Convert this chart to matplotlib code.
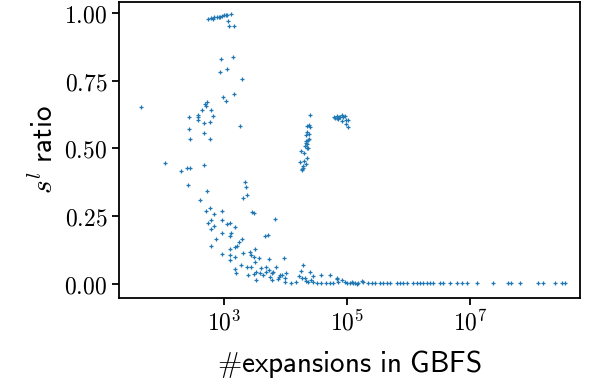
import numpy as np
import matplotlib
matplotlib.use('Agg')
import matplotlib.pyplot as plt
from matplotlib.ticker import FixedLocator, NullLocator, FuncFormatter

plt.rcParams['mathtext.fontset'] = 'cm'

# --- data ---
# lone point far left
left_x = [44]
left_y = [0.654]

# cluster near ratio 1
top_x = [556, 608, 655, 690, 760, 820, 861, 930, 1000, 1079, 1132, 1300, 1148, 1192, 1438]
top_y = [0.978, 0.980, 0.977, 0.985, 0.984, 0.986, 0.986, 0.989, 0.990, 0.991, 0.991, 0.994,
         0.968, 0.952, 0.953]

# scattered points around 10^3, ratio 0.5 - 0.85
upper_x = [894, 1417, 861, 1106, 1984, 952, 1438, 1066, 535, 485, 504, 444, 615, 670, 374,
           382, 273, 378, 468, 592, 273, 478, 280, 592, 1841]
upper_y = [0.831, 0.837, 0.781, 0.791, 0.754, 0.691, 0.701, 0.674, 0.670, 0.664, 0.657, 0.642,
           0.642, 0.621, 0.623, 0.617, 0.616, 0.603, 0.593, 0.598, 0.571, 0.555, 0.534, 0.535,
           0.582]

# the steep streak near 2*10^4
streak_x = [25300, 22600, 23800, 25300, 22600, 21300, 24100, 23200, 24400, 21500, 22600, 20500,
            22100, 23200, 18100, 20200, 22400, 20200, 17000, 21300, 19000, 18300, 19500, 18700,
            21900]
streak_y = [0.623, 0.583, 0.586, 0.578, 0.561, 0.549, 0.552, 0.532, 0.534, 0.519, 0.517, 0.507,
            0.503, 0.502, 0.490, 0.484, 0.465, 0.455, 0.448, 0.442, 0.435, 0.425, 0.427, 0.421,
            0.528]

# flat blob near 10^5
blob_x = [62100, 68000, 73300, 76900, 83000, 87100, 93800, 72300, 82000, 95300, 103800, 95300,
          105000, 63800, 69600]
blob_y = [0.615, 0.620, 0.617, 0.614, 0.623, 0.615, 0.619, 0.609, 0.600, 0.603, 0.604, 0.589,
          0.578, 0.611, 0.611]

# the decaying band
decay_x = [109, 198, 247, 280, 478, 263, 535, 407, 2172, 2306, 2393, 2014, 585, 509, 695, 918,
           2853, 3076, 6823, 621, 938, 543, 1132, 1239, 1493, 680, 615, 1300, 938, 1239, 750,
           1984, 4642, 5248, 1774, 608, 1493, 1645, 1239, 3192, 2037, 2648, 2716, 938, 1252,
           1510, 3109, 3664, 5457, 9556, 1252, 3228, 1870, 2339, 2779, 3951, 4764, 7087, 19270,
           1527, 4819, 5333, 6339, 3890, 3313, 2427, 1567, 3076, 4305, 5965, 8046, 8671, 10080,
           17670, 25300, 5597, 7750, 9704, 7554, 6029, 3313, 9925, 12420, 14820, 16400, 18540,
           20750, 27990, 38200, 52360, 21300, 23490, 25700, 28310, 32140, 37350, 45080, 52960,
           59880, 69500, 83000, 72300, 93800, 111900, 126500, 143800, 68000, 98900, 119100,
           134900, 152800, 173400, 184100]
decay_y = [0.445, 0.417, 0.429, 0.429, 0.437, 0.366, 0.343, 0.310, 0.376, 0.358, 0.328, 0.317,
           0.280, 0.270, 0.257, 0.268, 0.266, 0.261, 0.240, 0.235, 0.235, 0.224, 0.221, 0.225,
           0.211, 0.213, 0.203, 0.188, 0.188, 0.177, 0.167, 0.167, 0.178, 0.181, 0.154, 0.141,
           0.137, 0.139, 0.130, 0.128, 0.115, 0.119, 0.107, 0.110, 0.106, 0.099, 0.099, 0.096,
           0.092, 0.095, 0.087, 0.081, 0.070, 0.064, 0.064, 0.060, 0.062, 0.064, 0.070, 0.055,
           0.045, 0.052, 0.044, 0.041, 0.043, 0.033, 0.039, 0.036, 0.032, 0.039, 0.032, 0.034,
           0.039, 0.048, 0.044, 0.025, 0.026, 0.022, 0.017, 0.015, 0.014, 0.008, 0.005, 0.008,
           0.030, 0.022, 0.022, 0.030, 0.031, 0.033, 0.012, 0.008, 0.015, 0.006, 0.005, 0.003,
           0.005, 0.005, 0.003, 0.018, 0.015, 0.008, 0.008, 0.003, 0.005, 0.000, 0.020, 0.005,
           0.007, 0.003, 0.005, 0.011, 0.007]

# long tail, ratio ~0
tail_x = [221800, 252200, 285100, 344200, 389400, 451900, 500000, 642700, 727800, 822500,
          935000, 1197000, 1358000, 1538000, 1741000, 1977000, 2239000, 2531000, 3251000,
          3681000, 4732000, 6081000, 7328000, 8836000, 12850000, 23390000, 41980000, 45920000,
          65060000, 129100000, 152100000, 240900000, 309700000, 350700000]
tail_y = [0.002] * len(tail_x)

xs = left_x + top_x + upper_x + streak_x + blob_x + decay_x + tail_x
ys = left_y + top_y + upper_y + streak_y + blob_y + decay_y + tail_y

# --- plot ---
fig = plt.figure(figsize=(5.92, 3.85), dpi=100)
ax = fig.add_axes([0.201, 0.226, 0.779, 0.769])
ax.plot(xs, ys, '+', color='#1f77b4', ms=3, mew=0.9)
ax.set_xscale('log')
ax.set_xlim(19.6, 6.2e8)
ax.set_ylim(-0.052, 1.04)

ax.xaxis.set_major_locator(FixedLocator([1e3, 1e5, 1e7]))
ax.xaxis.set_minor_locator(NullLocator())
ax.xaxis.set_major_formatter(FuncFormatter(lambda v, p: r'$10^{%d}$' % round(np.log10(v))))
ax.set_yticks([0, 0.25, 0.5, 0.75, 1.0])
ax.yaxis.set_major_formatter(FuncFormatter(lambda v, p: r'$%.2f$' % v))

ax.tick_params(labelsize=17, width=1.3, length=5)
for s in ax.spines.values():
  s.set_linewidth(1.3)

ax.set_xlabel(r'$\#\mathsf{expansions\ in\ GBFS}$', fontsize=21, labelpad=9)
ax.set_ylabel(r'$s^l\ \mathsf{ratio}$', fontsize=21, labelpad=4)

fig.savefig('out.png', dpi=100)
